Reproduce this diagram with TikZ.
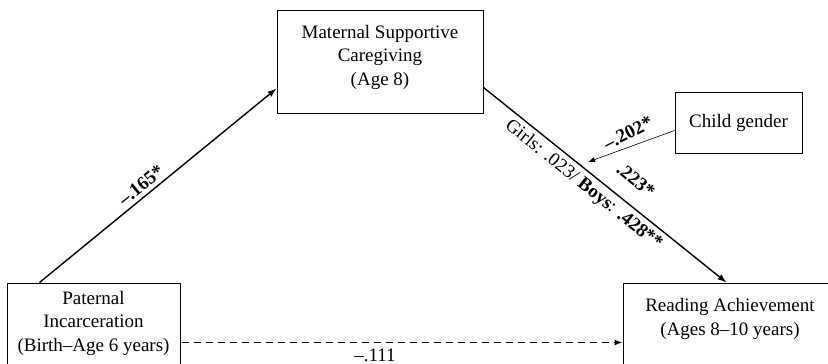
\documentclass[tikz,border=0pt]{standalone}
\usepackage{fontspec}
\setmainfont{Liberation Serif}
\usetikzlibrary{arrows.meta,calc}
\begin{document}
\begin{tikzpicture}[x=1pt,y=-1pt,
  box/.style={draw, line width=1pt, inner sep=0pt},
  txt/.style={align=center, inner sep=0pt, font=\fontsize{19}{23.5}\selectfont},
  lab/.style={inner sep=0pt, font=\fontsize{19}{23}\selectfont\bfseries},
  plainlab/.style={inner sep=0pt, font=\fontsize{19}{23}\selectfont},
  conn/.style={line width=1.4pt, -{Latex[length=9pt,width=6.5pt]}},
  thinconn/.style={line width=0.6pt, -{Latex[length=7pt,width=5pt]}},
  dashconn/.style={line width=1.4pt, dash pattern=on 7pt off 5pt, -{Latex[length=8pt,width=6pt]}},
]
\useasboundingbox (0,0) rectangle (828,364);
\clip (0,0) rectangle (828,364);
% boxes
\node[box, minimum width=206, minimum height=103] (mat) at (380,61.5) {};
\node[txt] (mattxt) at (380,57) {Maternal Supportive\\Caregiving\\(Age 8)};
\node[box, minimum width=173, minimum height=83] (pat) at (93.5,324.5) {};
\node[txt] (pattxt) at (93.5,323) {Paternal\\Incarceration\\(Birth–Age 6 years)};
\node[box, minimum width=214, minimum height=83] (read) at (730,324.5) {};
\node[txt] (readtxt) at (730,319) {Reading Achievement\\(Ages 8–10 years)};
\node[box, minimum width=127, minimum height=61] (child) at (738.5,122.5) {};
\node[txt] (childtxt) at (738.5,122.5) {Child gender};
% connectors
\coordinate (tip) at (588,162);
\draw[conn] ($(pat.north west)+(33,0)$) -- ($(mat.south west)+(0,-25)$);
\draw[conn] ($(mat.south east)+(0,-26)$) -- ($(read.north west)+(104,0)$);
\draw[thinconn] ($(child.west)+(0,8)$) -- (tip);
\draw[dashconn] ($(pat.north east)+(1,60)$) -- ($(read.north west)+(0,60)$);
% labels
\node[lab, rotate=39.2] (l1) at (141,185.5) {–.165*};
\node[lab, rotate=27] (l2) at (628,133) {–.202*};
\node[lab, rotate=-38.8] (l3) at (636,180) {.223*};
\node[plainlab, rotate=-38.8] (l4) at (583.5,185) {Girls: .023/ \textbf{Boys}: \textbf{.428**}};
\node[plainlab] (l5) at (375,355) {–.111};
\end{tikzpicture}
\end{document}
